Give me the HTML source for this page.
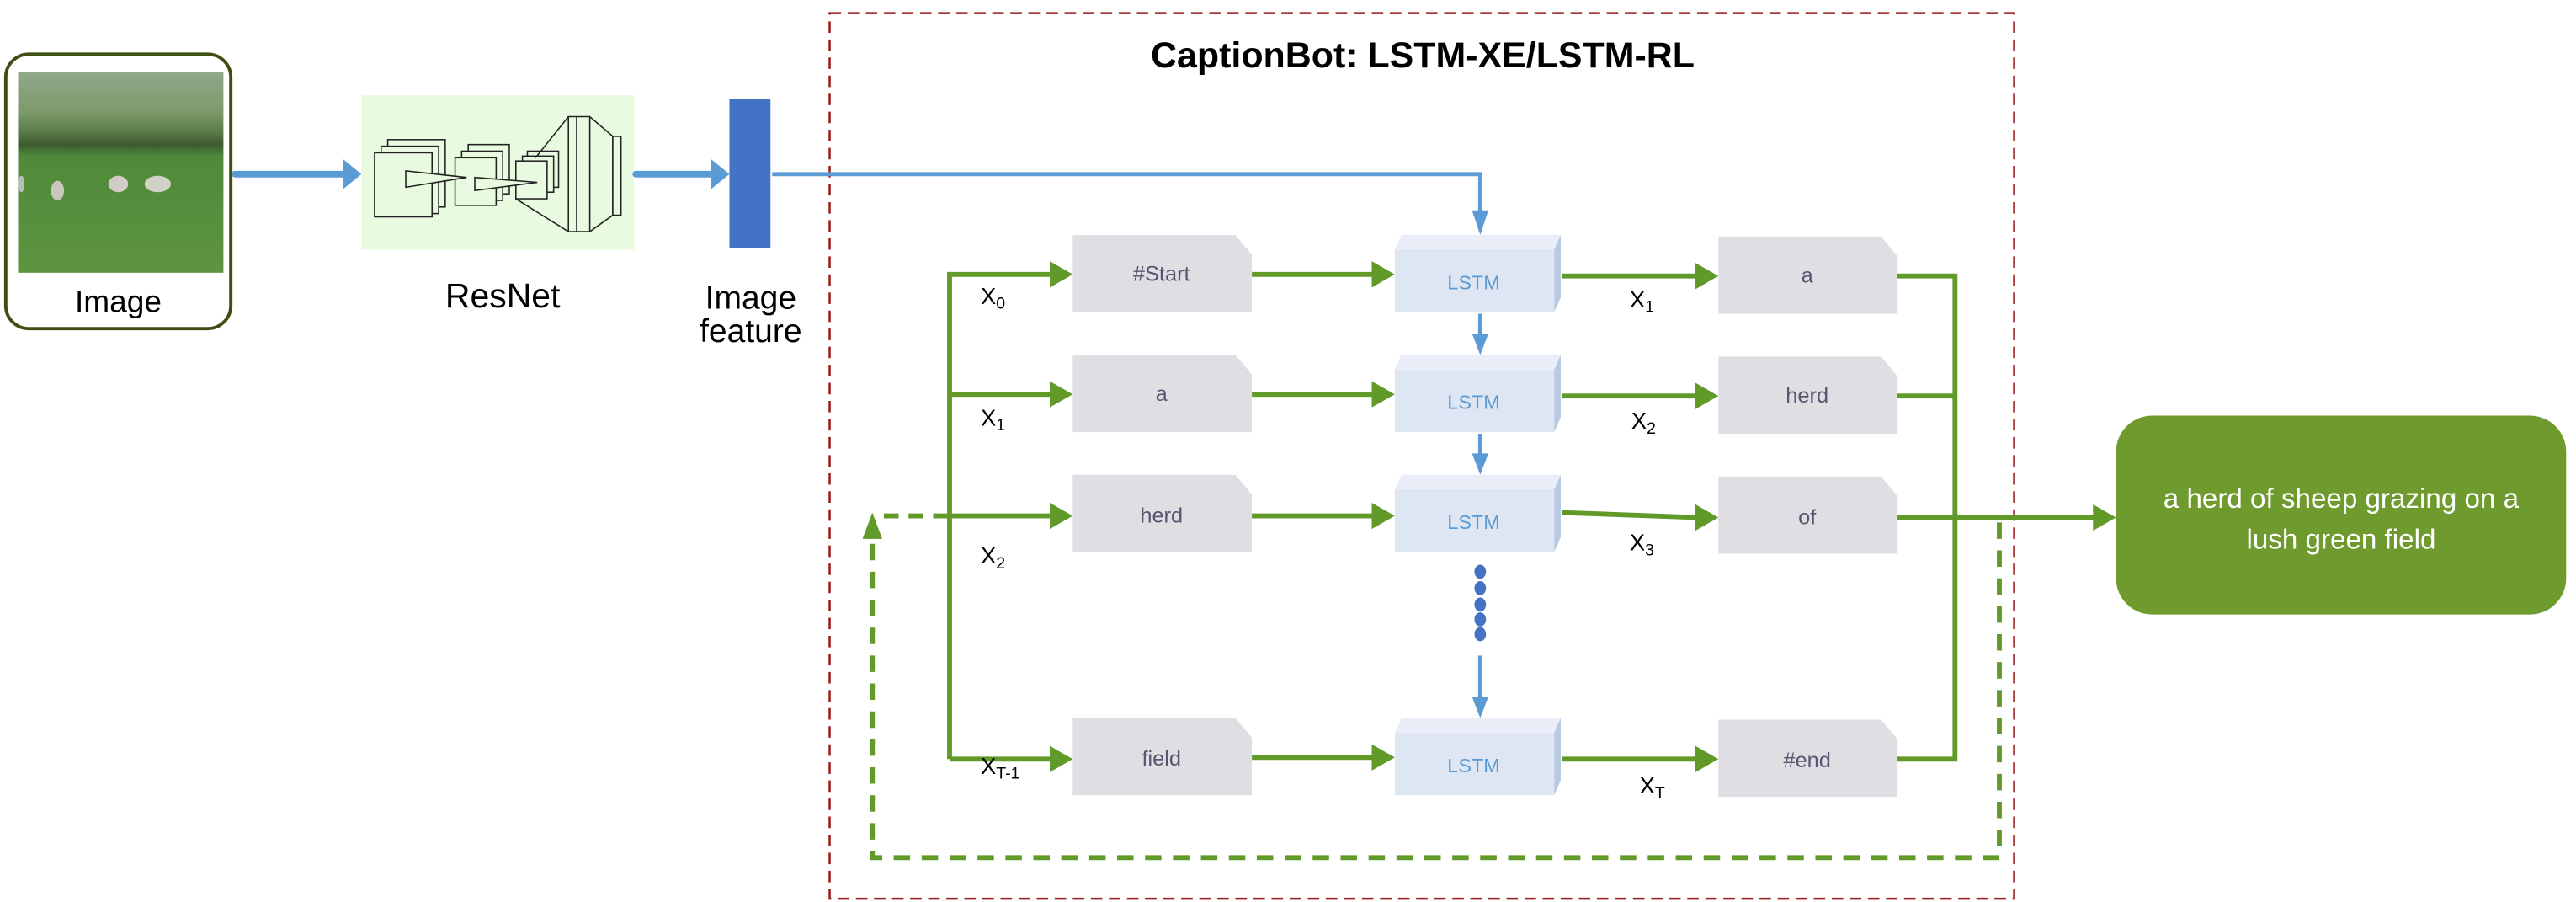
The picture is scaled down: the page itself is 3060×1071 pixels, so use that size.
<!DOCTYPE html>
<html><head><meta charset="utf-8"><style>
html,body{margin:0;padding:0;background:#fff;}
svg{display:block;}
text{font-family:"Liberation Sans",sans-serif;}
</style></head><body>
<svg width="3060" height="1071" viewBox="0 0 1568 549" preserveAspectRatio="none" xmlns="http://www.w3.org/2000/svg">
<defs>
<linearGradient id="ph" x1="0" y1="0" x2="0" y2="1">
<stop offset="0" stop-color="#8fa88a"/><stop offset="0.2" stop-color="#7d9a6a"/>
<stop offset="0.3" stop-color="#5a7a48"/><stop offset="0.36" stop-color="#3e5a30"/>
<stop offset="0.42" stop-color="#4f8a3a"/><stop offset="1" stop-color="#5d9440"/>
</linearGradient>
</defs>
<rect x="3.5" y="33" width="137" height="167" rx="14" fill="#fff" stroke="#3f4f14" stroke-width="2"/>
<rect x="11" y="44" width="125" height="122" fill="url(#ph)"/>
<ellipse cx="13" cy="112" rx="2" ry="5" fill="#bbb"/>
<ellipse cx="35" cy="116" rx="4" ry="6" fill="#c9c6be"/>
<ellipse cx="72" cy="112" rx="6" ry="5" fill="#d0cdc6"/>
<ellipse cx="96" cy="112" rx="8" ry="5" fill="#d3d0c8"/>
<text x="72" y="190" font-size="19" text-anchor="middle" fill="#000">Image</text>
<line x1="143" y1="106" x2="211" y2="106" stroke="#5b9bd5" stroke-width="4" stroke-linecap="round"/>
<polygon points="209,97 220,106 209,115" fill="#5b9bd5"/>
<rect x="220" y="58" width="166" height="94" fill="#e8fbe0"/>
<g fill="#e8fbe0" stroke="#222" stroke-width="0.8">
<rect x="236" y="85" width="35" height="41"/><rect x="232" y="89" width="35" height="41"/><rect x="228" y="93" width="35" height="39"/>
<rect x="285" y="88" width="25" height="30"/><rect x="281" y="92" width="25" height="30"/><rect x="277" y="96" width="25" height="29"/>
<rect x="321" y="92" width="19" height="22"/><rect x="318" y="95" width="19" height="22"/><rect x="314" y="98" width="19" height="23"/>
<polygon points="247,104 284,108 247,114"/>
<polygon points="289,108 327,111 289,116"/>
<polyline points="314,121 346,141 359,141 373,131 373,83 359,71 346,71 326,96" fill="none"/>
<line x1="346" y1="71" x2="346" y2="141"/><line x1="351" y1="71" x2="351" y2="141"/><line x1="359" y1="71" x2="359" y2="141"/>
<rect x="373" y="83" width="5" height="48"/>
</g>
<text x="306" y="187" font-size="21" text-anchor="middle">ResNet</text>
<line x1="387" y1="106" x2="435" y2="106" stroke="#5b9bd5" stroke-width="4" stroke-linecap="round"/>
<polygon points="433,97 444,106 433,115" fill="#5b9bd5"/>
<rect x="444" y="60" width="25" height="91" fill="#4472c4"/>
<text x="457" y="188" font-size="20" text-anchor="middle">Image</text>
<text x="457" y="208" font-size="20" text-anchor="middle">feature</text>
<rect x="505" y="8" width="721" height="539" fill="none" stroke="#9b1c1c" stroke-width="1.3" stroke-dasharray="7,4"/>
<text x="866" y="41" font-size="22" font-weight="bold" text-anchor="middle">CaptionBot: LSTM-XE/LSTM-RL</text>
<polyline points="470,106 901,106 901,132" fill="none" stroke="#5b9bd5" stroke-width="2.5"/>
<polygon points="896,128 906,128 901,143" fill="#5b9bd5"/>
<polyline points="1217,318 1217,522 531,522 531,330" fill="none" stroke="#629a2a" stroke-width="3" stroke-dasharray="10,7"/>
<polygon points="525,328 531,312 537,328" fill="#629a2a"/>
<line x1="538" y1="314" x2="578" y2="314" stroke="#629a2a" stroke-width="3" stroke-dasharray="9,6"/>
<g stroke="#629a2a" stroke-width="3" fill="none">
<polyline points="578,462 578,167 640,167"/>
<line x1="578" y1="240" x2="640" y2="240"/>
<line x1="578" y1="314" x2="640" y2="314"/>
<line x1="578" y1="462" x2="640" y2="462"/>
<line x1="762" y1="167" x2="836" y2="167"/>
<line x1="762" y1="240" x2="836" y2="240"/>
<line x1="762" y1="314" x2="836" y2="314"/>
<line x1="762" y1="461" x2="836" y2="461"/>
<line x1="951" y1="168" x2="1033" y2="168"/>
<line x1="951" y1="241" x2="1033" y2="241"/>
<line x1="951" y1="312" x2="1033" y2="315"/>
<line x1="951" y1="462" x2="1033" y2="462"/>
<polyline points="1155,168 1190,168 1190,462 1155,462"/>
<line x1="1155" y1="241" x2="1190" y2="241"/>
<line x1="1155" y1="315" x2="1276" y2="315"/>
</g>
<g fill="#629a2a">
<polygon points="639,159 653,167 639,175"/><polygon points="639,232 653,240 639,248"/>
<polygon points="639,306 653,314 639,322"/><polygon points="639,454 653,462 639,470"/>
<polygon points="835,159 849,167 835,175"/><polygon points="835,232 849,240 835,248"/>
<polygon points="835,306 849,314 835,322"/><polygon points="835,453 849,461 835,469"/>
<polygon points="1032,160 1046,168 1032,176"/><polygon points="1032,233 1046,241 1032,249"/>
<polygon points="1032,307 1046,315 1032,323"/><polygon points="1032,454 1046,462 1032,470"/>
<polygon points="1274,307 1288,315 1274,323"/>
</g>
<g fill="#dfdee3">
<polygon points="653,143 752,143 762,155 762,190 653,190"/>
<polygon points="653,216 752,216 762,228 762,263 653,263"/>
<polygon points="653,289 752,289 762,301 762,336 653,336"/>
<polygon points="653,437 752,437 762,449 762,484 653,484"/>
<polygon points="1046,144 1145,144 1155,156 1155,191 1046,191"/>
<polygon points="1046,217 1145,217 1155,229 1155,264 1046,264"/>
<polygon points="1046,290 1145,290 1155,302 1155,337 1046,337"/>
<polygon points="1046,438 1145,438 1155,450 1155,485 1046,485"/>
</g>
<g font-size="13" fill="#5a5470" text-anchor="middle">
<text x="707" y="171">#Start</text><text x="707" y="244">a</text><text x="707" y="318">herd</text><text x="707" y="466">field</text>
<text x="1100" y="172">a</text><text x="1100" y="245">herd</text><text x="1100" y="319">of</text><text x="1100" y="467">#end</text>
</g>
<g id="l1">
<polygon points="849,152 853,143 950,143 946,152" fill="#e9eef8"/>
<polygon points="946,152 950,143 950,181 946,190" fill="#b8c9e4"/>
<rect x="849" y="152" width="97" height="38" fill="#dfe6f3"/>
</g>
<use href="#l1" y="73"/><use href="#l1" y="146"/><use href="#l1" y="294"/>
<g font-size="12" fill="#5b9bd5" text-anchor="middle">
<text x="897" y="176">LSTM</text><text x="897" y="249">LSTM</text><text x="897" y="322">LSTM</text><text x="897" y="470">LSTM</text>
</g>
<g stroke="#5b9bd5" stroke-width="2.5"><line x1="901" y1="191" x2="901" y2="204"/><line x1="901" y1="264" x2="901" y2="277"/><line x1="901" y1="399" x2="901" y2="425"/></g>
<g fill="#5b9bd5"><polygon points="896,203 906,203 901,216"/><polygon points="896,276 906,276 901,289"/><polygon points="896,424 906,424 901,437"/></g>
<g fill="#4472c4"><ellipse cx="901" cy="348" rx="3.5" ry="4.3"/><ellipse cx="901" cy="358" rx="3.5" ry="4.3"/><ellipse cx="901" cy="368" rx="3.5" ry="4.3"/><ellipse cx="901" cy="377" rx="3.5" ry="4.3"/><ellipse cx="901" cy="386" rx="3.5" ry="4.3"/></g>
<g font-size="14" fill="#000">
<text x="597" y="185">X<tspan font-size="10" dy="3">0</tspan></text>
<text x="597" y="259">X<tspan font-size="10" dy="3">1</tspan></text>
<text x="597" y="343">X<tspan font-size="10" dy="3">2</tspan></text>
<text x="597" y="471">X<tspan font-size="10" dy="3">T-1</tspan></text>
<text x="992" y="187">X<tspan font-size="10" dy="3">1</tspan></text>
<text x="993" y="261">X<tspan font-size="10" dy="3">2</tspan></text>
<text x="992" y="335">X<tspan font-size="10" dy="3">3</tspan></text>
<text x="998" y="483">X<tspan font-size="10" dy="3">T</tspan></text>
</g>
<rect x="1288" y="253" width="274" height="121" rx="22" fill="#6f9b2e"/>
<text x="1425" y="309" font-size="17" fill="#fff" text-anchor="middle">a herd of sheep grazing on a</text>
<text x="1425" y="334" font-size="17" fill="#fff" text-anchor="middle">lush green field</text>
</svg>
</body></html>
